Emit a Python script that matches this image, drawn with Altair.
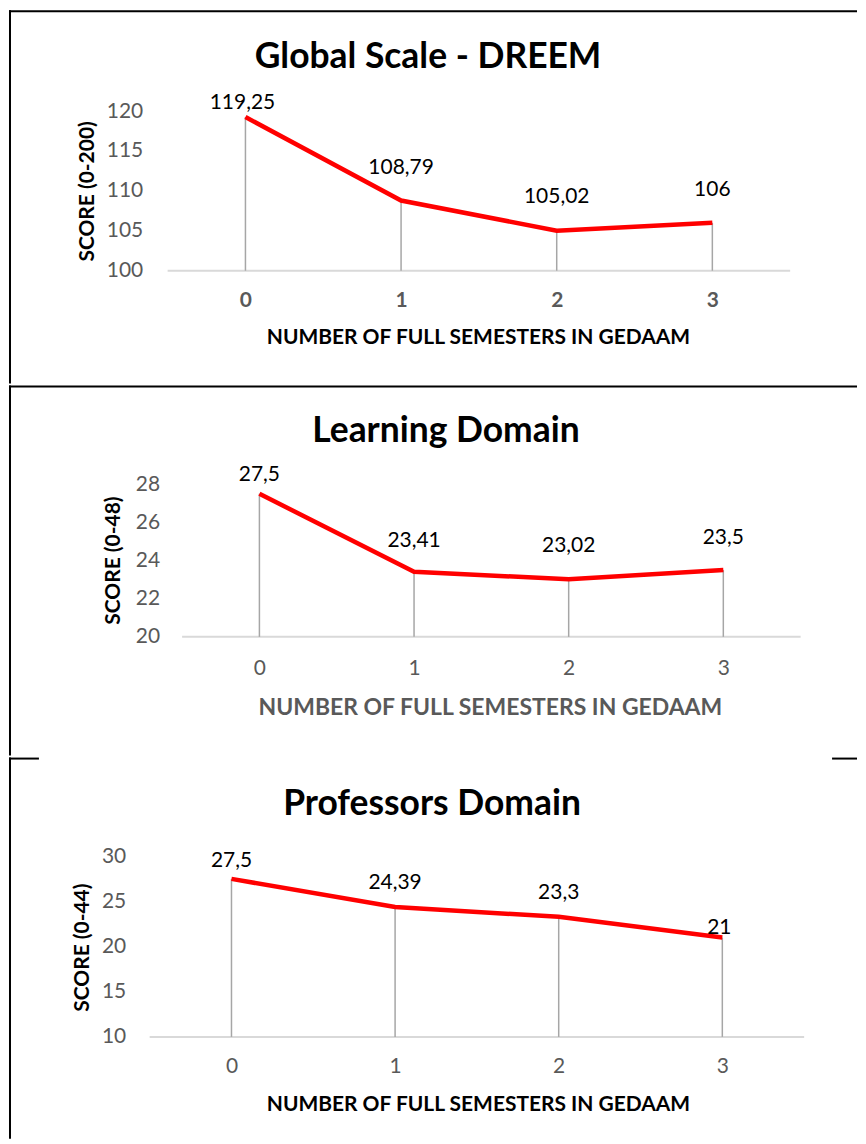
import altair as alt
import pandas as pd

# ---- data ----
semesters = [0, 1, 2, 3]
global_scores = [119.25, 108.79, 105.02, 106]
learning_scores = [27.5, 23.41, 23.02, 23.5]
professors_scores = [27.5, 24.39, 23.3, 21]
global_labels = ["119,25", "108,79", "105,02", "106"]
learning_labels = ["27,5", "23,41", "23,02", "23,5"]
professors_labels = ["27,5", "24,39", "23,3", "21"]
panel_titles = ["Global Scale - DREEM", "Learning Domain", "Professors Domain"]
y_titles = ["SCORE (0-200)", "SCORE (0-48)", "SCORE (0-44)"]
y_ticks = [[100, 105, 110, 115, 120], [20, 22, 24, 26, 28], [10, 15, 20, 25, 30]]
x_title = "NUMBER OF FULL SEMESTERS IN GEDAAM"

FONT = "Lato"
W = 850
RED = "#ff0000"
GRAY_TXT = "#595959"


def lin(va, pa, vb, pb, p):
    return va + (p - pa) * (vb - va) / (pb - pa)


# layout / style per panel (pixels inside each panel)
layouts = [
    dict(H=374, sh=0, y_ref=(120, 101, 100, 261), x_ref=(0, 237, 3, 705), title_xy=(420, 47),
         ylab_right=134, ytitle_x=79, ytitle_y=181, xlab_dy=30, xtitle_dy=67, xtitle_x=470,
         xlab_bold=True, xtitle_color="#000000", xtitle_size=21,
         dys=[-14, -33, -34, -33], dxs=[-3, 0, 0, 0], top_border="full"),
    dict(H=371, sh=-1, y_ref=(28, 100, 20, 253), x_ref=(0, 251, 3, 716), title_xy=(438, 47),
         ylab_right=151, ytitle_x=105, ytitle_y=176, xlab_dy=32, xtitle_dy=71, xtitle_x=482,
         xlab_bold=False, xtitle_color=GRAY_TXT, xtitle_size=23,
         dys=[-19, -31, -33, -32], dxs=[0, 0, 0, 0], top_border="full"),
    dict(H=382, sh=-1, y_ref=(30, 100, 10, 281), x_ref=(0, 223, 3, 715), title_xy=(424, 48),
         ylab_right=117, ytitle_x=74, ytitle_y=191, xlab_dy=30, xtitle_dy=68, xtitle_x=470,
         xlab_bold=False, xtitle_color="#000000", xtitle_size=21,
         dys=[-18, -24, -24, -10], dxs=[0, 0, 0, -3], top_border="stubs"),
]

series = [
    (global_scores, global_labels),
    (learning_scores, learning_labels),
    (professors_scores, professors_labels),
]


def make_panel(i):
    L = layouts[i]
    scores, labels = series[i]
    H = L["H"]
    sh = L["sh"]
    yv_a, yp_a, yv_b, yp_b = L["y_ref"]
    yp_a += sh
    yp_b += sh
    xv_a, xp_a, xv_b, xp_b = L["x_ref"]
    y_dom = [lin(yv_a, yp_a, yv_b, yp_b, H), lin(yv_a, yp_a, yv_b, yp_b, 0)]
    x_dom = [lin(xv_a, xp_a, xv_b, xp_b, 0), lin(xv_a, xp_a, xv_b, xp_b, W)]
    ymin = min(y_ticks[i])
    baseline_px = yp_b

    xs = alt.Scale(domain=x_dom, nice=False, zero=False)
    ys = alt.Scale(domain=y_dom, nice=False, zero=False)

    xaxis = alt.Axis(
        orient="bottom", offset=-(H - baseline_px), values=semesters, format="d",
        domain=False, ticks=False, grid=False,
        labelFont=FONT, labelFontSize=21, labelColor=GRAY_TXT,
        labelFontWeight="bold" if L["xlab_bold"] else "normal",
        labelPadding=L["xlab_dy"], labelBaseline="middle",
        title=x_title, titleFont=FONT, titleFontSize=L["xtitle_size"], titleFontWeight="bold",
        titleColor=L["xtitle_color"], titleX=L["xtitle_x"], titleY=L["xtitle_dy"],
        titleBaseline="middle", titleAlign="center", titleAnchor="start",
    )
    yaxis = alt.Axis(
        orient="left", offset=-L["ylab_right"], values=y_ticks[i],
        domain=False, ticks=False, grid=False,
        labelFont=FONT, labelFontSize=21, labelColor=GRAY_TXT, labelPadding=0,
        title=y_titles[i], titleFont=FONT, titleFontSize=21, titleFontWeight="bold",
        titleColor="#000000", titleAngle=270,
        titleX=L["ytitle_x"] - L["ylab_right"], titleY=L["ytitle_y"] + sh,
        titleBaseline="middle", titleAlign="center", titleAnchor="start",
    )

    df = pd.DataFrame({"semester": semesters, "score": scores, "label": labels, "base": ymin})
    base_df = pd.DataFrame({"x0": [min(semesters) - 0.5], "x1": [max(semesters) + 0.5], "y0": [ymin]})

    baseline = alt.Chart(base_df).mark_rule(color="#d9d9d9", strokeWidth=2).encode(
        x=alt.X("x0:Q", scale=xs, axis=xaxis), x2="x1:Q",
        y=alt.Y("y0:Q", scale=ys, axis=yaxis),
    )
    drops = alt.Chart(df).mark_rule(color="#a6a6a6", strokeWidth=1.5).encode(
        x=alt.X("semester:Q", scale=xs, axis=xaxis),
        y=alt.Y("score:Q", scale=ys, axis=yaxis), y2="base:Q",
    )
    line = alt.Chart(df).mark_line(color=RED, strokeWidth=4.5).encode(
        x=alt.X("semester:Q", scale=xs, axis=xaxis),
        y=alt.Y("score:Q", scale=ys, axis=yaxis),
    )
    texts = []
    for k, s in enumerate(semesters):
        texts.append(
            alt.Chart(df).transform_filter(alt.datum.semester == s)
            .mark_text(font=FONT, fontSize=21, color="#000000", baseline="middle",
                       align="center", dy=L["dys"][k], dx=L["dxs"][k])
            .encode(
                x=alt.X("semester:Q", scale=xs, axis=xaxis),
                y=alt.Y("score:Q", scale=ys, axis=yaxis),
                text="label:N",
            )
        )

    deco = pd.DataFrame({"title": [panel_titles[i]]})
    title = alt.Chart(deco).mark_text(
        font=FONT, fontSize=35.5, fontWeight="bold", color="#000000",
        align="center", baseline="middle",
    ).encode(x=alt.value(L["title_xy"][0]), y=alt.value(L["title_xy"][1] + sh), text="title:N")

    left_border = alt.Chart(deco).mark_rule(color="#000000", strokeWidth=2).encode(
        x=alt.value(1), y=alt.value(0), y2=alt.value(H))
    borders = [left_border]
    if L["top_border"] == "full":
        borders.append(alt.Chart(deco).mark_rule(color="#000000", strokeWidth=2).encode(
            x=alt.value(0), x2=alt.value(W), y=alt.value(1)))
    else:
        borders.append(alt.Chart(deco).mark_rule(color="#000000", strokeWidth=2).encode(
            x=alt.value(0), x2=alt.value(30), y=alt.value(1)))
        borders.append(alt.Chart(deco).mark_rule(color="#000000", strokeWidth=2).encode(
            x=alt.value(W - 25), x2=alt.value(W), y=alt.value(1)))

    return alt.layer(baseline, drops, line, *texts, title, *borders).properties(
        width=W, height=H,
        view=alt.ViewBackground(stroke="#ffffff", strokeWidth=0, strokeOpacity=0),
    )


chart = (
    alt.vconcat(*[make_panel(i) for i in range(3)], spacing=0)
    .properties(padding=0)
    .configure_view(stroke="#ffffff", strokeWidth=0, strokeOpacity=0)
    .configure(background="white")
)

chart.save("out.html", embed_options={"renderer": "svg", "actions": False})
